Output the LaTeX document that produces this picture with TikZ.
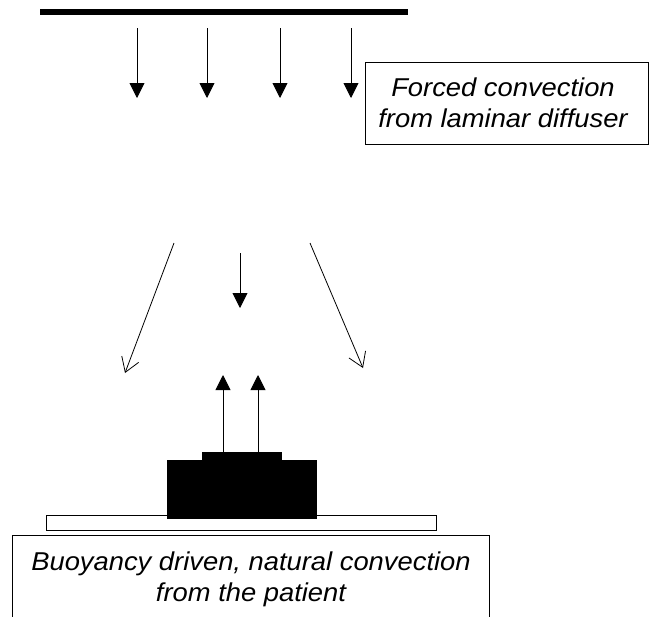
\documentclass[tikz,border=0pt]{standalone}
\usepackage{tikz}
\usepackage{xcolor}
\usepackage{fontspec}
\setmainfont{Liberation Sans}
\newfontfamily\captionfont{Liberation Sans}[FakeStretch=1.06]
\usetikzlibrary{arrows.meta, calc, positioning}

\tikzset{
    airflow/.style={draw, line width=0.9pt, -{Triangle[width=15pt,length=15pt]}},
    spreadflow/.style={draw, line width=0.8pt, -{Straight Barb[width=18pt,length=14pt,line width=0.8pt]}},
    slab/.style={fill=black, draw=black, line width=0.6pt, inner sep=0pt},
    caption/.style={font=\captionfont\fontsize{25.8}{31}\selectfont\itshape, align=center, inner sep=0pt}
}

\begin{document}
\begin{tikzpicture}[x=1pt, y=-1pt]
        \useasboundingbox (0,0) rectangle (650,616);
        \begin{scope}
            % laminar diffuser and the air coming out of it
            \node[fill=black, inner sep=0pt, minimum width=368pt, minimum height=5.5pt] (diffuser) at (224,12) {};
            \foreach \n/\x in {1/137, 2/207, 3/280, 4/351}{
                \coordinate (D\n s) at (\x,28);
                \coordinate (D\n e) at (\x,98);
                \draw[airflow] (D\n s) -- (D\n e);
            }
            \node[draw, line width=0.8pt, inner sep=0pt, minimum width=283pt, minimum height=81.5pt] (forcedbox) at (506.5,103.25) {};
            \node[caption] (forcedtext) at (503,103) {Forced convection\\from laminar diffuser};
        \end{scope}
        \begin{scope}
            % flow near the patient
            \coordinate (Ls) at (174,243);
            \coordinate (Le) at (125,373);
            \coordinate (Rs) at (310,243);
            \coordinate (Re) at (363,368);
            \coordinate (Cs) at (240,253);
            \coordinate (Ce) at (240,308);
            \draw[spreadflow] (Ls) -- (Le);
            \draw[spreadflow] (Rs) -- (Re);
            \draw[airflow] (Cs) -- (Ce);
        \end{scope}
        \begin{scope}
            % table, patient and the rising plume
            \node[draw, line width=0.8pt, fill=white, inner sep=0pt, minimum width=390pt, minimum height=15pt] (table) at (241,522.5) {};
            \node[slab, minimum width=149pt, minimum height=58pt] (patient) at (241.5,489) {};
            \node[slab, minimum width=79pt, minimum height=7pt] (plate) at (241.5,455.5) {};
            \foreach \n/\x in {1/223, 2/258}{
                \coordinate (U\n s) at (\x,452);
                \coordinate (U\n e) at (\x,375);
                \draw[airflow] (U\n s) -- (U\n e);
            }
            \node[draw, line width=0.8pt, inner sep=0pt, minimum width=477pt, minimum height=106pt] (naturalbox) at (250.5,588) {};
            \node[caption] (naturaltext) at (251,579.5) {Buoyancy driven, natural convection\\from the patient};
        \end{scope}
    \end{tikzpicture}
\end{document}
